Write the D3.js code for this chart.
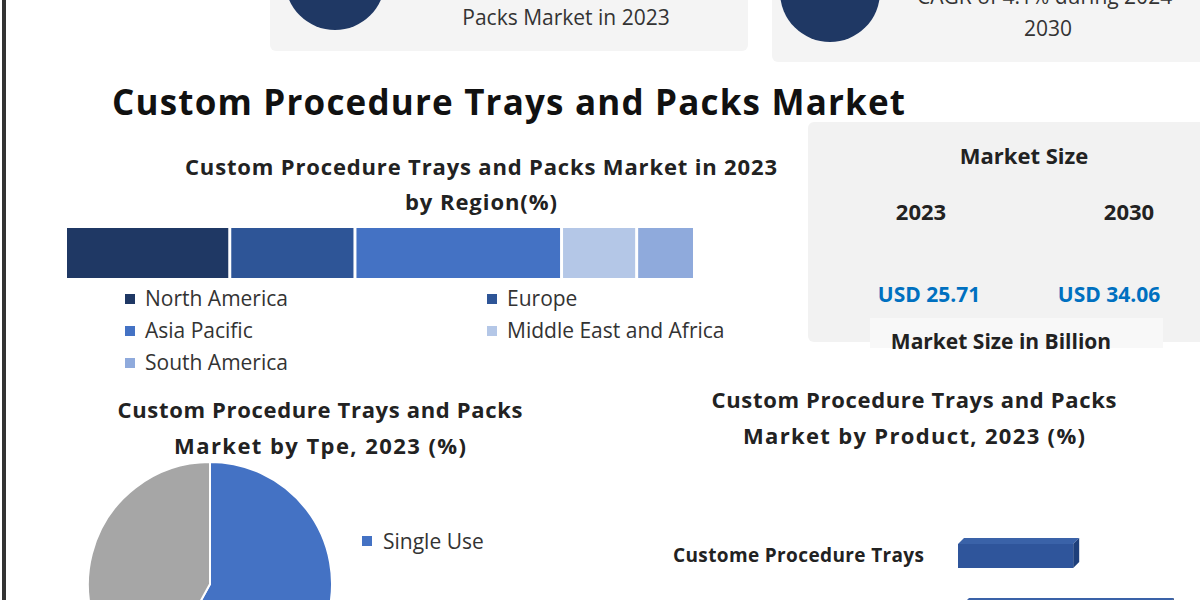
<!DOCTYPE html><html><head><meta charset="utf-8">
<script src="https://cdn.jsdelivr.net/npm/d3@7"></script>
<style>body{margin:0;background:#fff}svg{display:block;font-family:"Open Sans",sans-serif}</style></head><body>
<svg id="c" width="1200" height="600"></svg>
<script>
const regions=["North America","Europe","Asia Pacific","Middle East and Africa","South America"];
const regionShare=[26,20,33,12,9];
const regionColors=["#1f3864","#2e5597","#4472c4","#b4c7e7","#8faadc"];
const types=["Single Use","Reusable"];
const typeShare=[58,42];
const typeColors=["#4472c4","#a6a6a6"];
const products=["Custome Procedure Trays","Custom Procedure Packs"];
const productShare=[36,64];
const sizeYears=["2023","2030"];
const sizeValues=["USD 25.71","USD 34.06"];

const svg=d3.select("#c");
svg.append("rect").attr("x",2).attr("y",0).attr("width",4).attr("height",600).attr("fill","#333");
svg.append("rect").attr("x",270).attr("y",-20).attr("width",478).attr("height",71).attr("rx",6).attr("fill","#f4f4f4");
svg.append("circle").attr("cx",335).attr("cy",-20).attr("r",50).attr("fill","#1f3864");
svg.append("text").attr("x",566).attr("y",25).attr("text-anchor","middle").attr("font-size",21).attr("fill","#333").text("Packs Market in 2023");
svg.append("rect").attr("x",772).attr("y",-20).attr("width",440).attr("height",82).attr("rx",6).attr("fill","#f4f4f4");
svg.append("circle").attr("cx",830).attr("cy",-8).attr("r",50).attr("fill","#1f3864");
svg.append("text").attr("x",1048).attr("y",4).attr("text-anchor","middle").attr("font-size",21).attr("fill","#333").text("CAGR of 4.1% during 2024-");
svg.append("text").attr("x",1048).attr("y",36).attr("text-anchor","middle").attr("font-size",21).attr("fill","#333").text("2030");

svg.append("text").attr("x",112).attr("y",115).attr("font-size",35).attr("font-weight","bold").attr("fill","#111").attr("textLength",793).text("Custom Procedure Trays and Packs Market");

function title(x,y,t,w){svg.append("text").attr("x",x).attr("y",y).attr("text-anchor","middle").attr("font-size",22).attr("font-weight","bold").attr("fill","#222").attr("textLength",w).text(t);}
title(481,175,"Custom Procedure Trays and Packs Market in 2023",592);
title(481,210,"by Region(%)",152);
const total=d3.sum(regionShare);
const xs=d3.scaleLinear().domain([0,total]).range([67,693]);
let acc=0;
regionShare.forEach((v,i)=>{
  svg.append("rect").attr("x",xs(acc)+(i?1.5:0)).attr("y",228).attr("width",xs(acc+v)-xs(acc)-(i?1.5:0)-(i<4?1.5:0)).attr("height",50).attr("fill",regionColors[i]);
  acc+=v;
});
const legPos=[[125,299],[487,299],[125,331],[487,331],[125,363]];
regions.forEach((r,i)=>{
  const g=svg.append("g").attr("transform",`translate(${legPos[i][0]},${legPos[i][1]})`);
  g.append("rect").attr("x",0).attr("y",-5).attr("width",10).attr("height",10).attr("fill",regionColors[i]);
  g.append("text").attr("x",20).attr("y",7).attr("font-size",21).attr("fill","#333").text(r);
});

svg.append("rect").attr("x",808).attr("y",122).attr("width",400).attr("height",220).attr("rx",6).attr("fill","#f2f2f2");
svg.append("text").attr("x",1024).attr("y",164).attr("text-anchor","middle").attr("font-size",22).attr("font-weight","bold").attr("fill","#222").text("Market Size");
[921,1129].forEach((x,i)=>{
  svg.append("text").attr("x",x).attr("y",220).attr("text-anchor","middle").attr("font-size",22).attr("font-weight","bold").attr("fill","#222").text(sizeYears[i]);
  svg.append("text").attr("x",i?1109:929).attr("y",302).attr("text-anchor","middle").attr("font-size",21).attr("font-weight","bold").attr("fill","#0070c0").text(sizeValues[i]);
});
svg.append("rect").attr("x",870).attr("y",318).attr("width",293).attr("height",30).attr("fill","#f8f8f8");
svg.append("text").attr("x",1001).attr("y",349).attr("text-anchor","middle").attr("font-size",21).attr("font-weight","bold").attr("fill","#222").text("Market Size in Billion");

title(320,418,"Custom Procedure Trays and Packs",405);
title(320,454,"Market by Tpe, 2023  (%)",292);
const arcs=d3.pie().sort(null)(typeShare);
const arc=d3.arc().innerRadius(0).outerRadius(122);
svg.append("g").attr("transform","translate(210,584)").selectAll("path").data(arcs).join("path").attr("d",arc).attr("fill",(d,i)=>typeColors[i]).attr("stroke","#fff").attr("stroke-width",2);
svg.append("rect").attr("x",362).attr("y",536).attr("width",10).attr("height",10).attr("fill",typeColors[0]);
svg.append("text").attr("x",383).attr("y",549).attr("font-size",21).attr("fill","#333").text(types[0]);

title(914,408,"Custom Procedure Trays and Packs",405);
title(914,444,"Market by Product, 2023  (%)",342);
const xp=d3.scaleLinear().domain([0,100]).range([0,320]);
const yp=d3.scaleBand().domain(products).range([538,628]).paddingInner(0.5).paddingOuter(0);
products.forEach((p,i)=>{
  const x0=958+i*5,y0=yp(p),w=xp(productShare[i]),h=yp.bandwidth(),d=6;
  svg.append("path").attr("d",`M${x0},${y0+d} L${x0+d},${y0} L${x0+w+d},${y0} L${x0+w},${y0+d}Z`).attr("fill","#3a62a8");
  svg.append("path").attr("d",`M${x0+w},${y0+d} L${x0+w+d},${y0} L${x0+w+d},${y0+h-d} L${x0+w},${y0+h}Z`).attr("fill","#1e3f7a");
  svg.append("rect").attr("x",x0).attr("y",y0+d).attr("width",w).attr("height",h-d).attr("fill","#2f559b");
  if(y0+h/2+9<600) svg.append("text").attr("x",924).attr("y",y0+h/2+9).attr("text-anchor","end").attr("font-size",19).attr("font-weight","bold").attr("fill","#222").attr("textLength",251).text(p);
});
</script></body></html>
